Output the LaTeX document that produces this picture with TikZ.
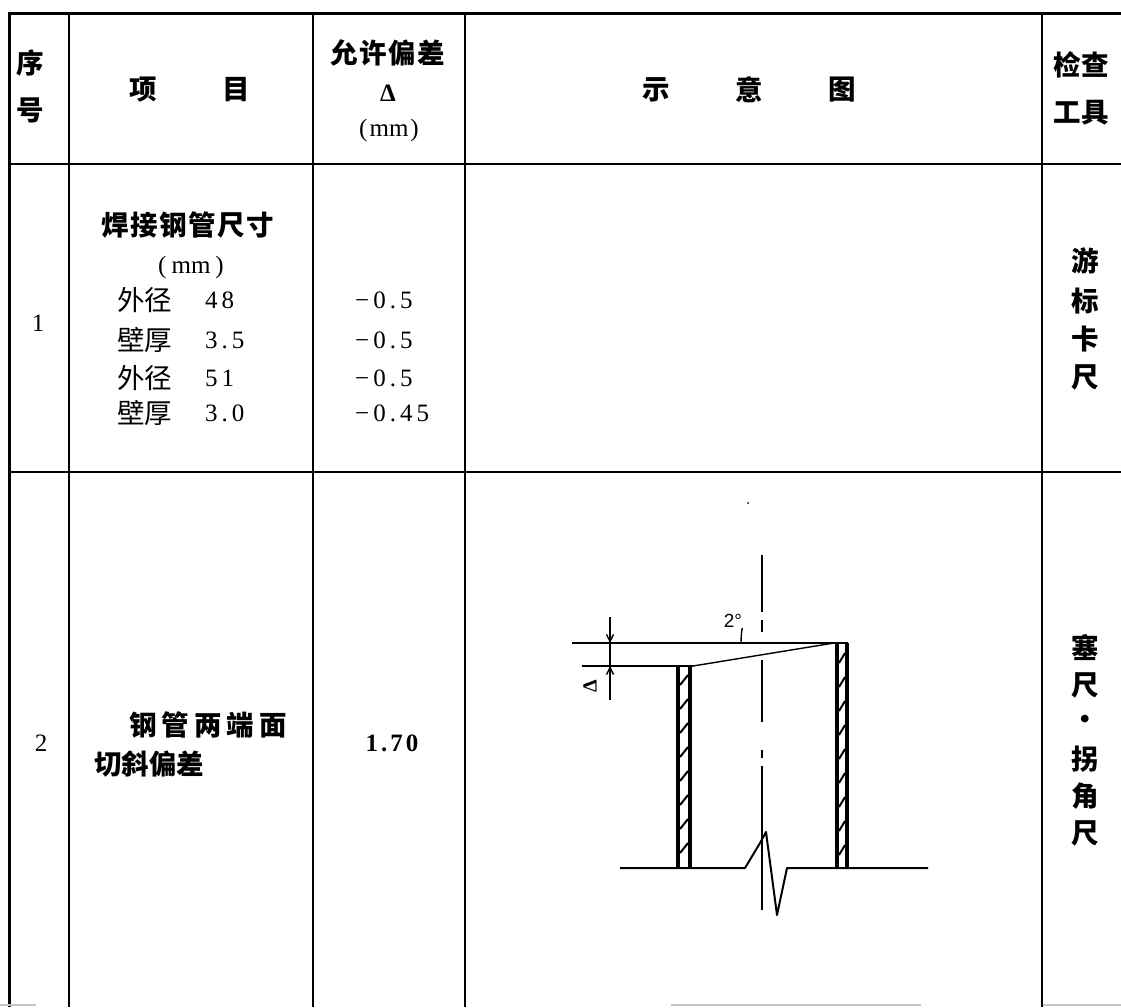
\documentclass[tikz,border=0pt]{standalone}
\usepackage{fontspec}
\setmainfont{Liberation Serif}
\newfontfamily\cjk{Noto Sans CJK SC}
\newfontfamily\sansf{Liberation Sans}
\usetikzlibrary{arrows.meta}
\newcommand\kk{\kern4pt}
\newcommand\ks{\kern1.5pt}
\begin{document}
\begin{tikzpicture}[x=1pt,y=-1pt,
  outer/.style={line width=3pt},
  grid/.style={line width=1.6pt},
  wall/.style={line width=3.8pt},
  fine/.style={line width=1.4pt},
  cn/.style={font=\cjk\bfseries\fontsize{27.5}{27.5}\selectfont, inner sep=0pt},
  cnr/.style={font=\cjk\fontsize{27.5}{27.5}\selectfont, inner sep=0pt},
  num/.style={font=\fontsize{25}{25}\selectfont, inner sep=0pt},
  numb/.style={font=\bfseries\fontsize{25}{25}\selectfont, inner sep=0pt},
  dimarrow/.style={fine, -{Straight Barb[length=7pt,width=7pt]}},
]
\useasboundingbox (0,0) rectangle (1121,1007);
% ---------- table ----------
\foreach \x in {69,313,465,1042} \draw[grid] (\x,13) -- (\x,1007);
\draw[grid] (9,164) -- (1121,164);
\draw[grid] (9,472) -- (1121,472);
\draw[outer] (9,1007) -- (9,13) -- (1121,13);
\draw[gray!45, line width=2pt] (0,1005) -- (36,1005) (671,1005) -- (921,1005) (1043,1005) -- (1121,1005);
% ---------- header ----------
\node[cn] (h1) at (30,63) {序};
\node[cn] (h2) at (30,110) {号};
\node[cn] (h3) at (143,90) {项};
\node[cn] (h4) at (236,90) {目};
\node[cn] (h5) at (388,53) {允\ks 许\ks 偏\ks 差};
\node[numb] (h6) at (388,93) {Δ};
\node[num] (h7) at (389,130) {(\kern2pt mm\kern2pt)};
\node[cn] (h8) at (656,90) {示};
\node[cn] (h9) at (749,90) {意};
\node[cn] (h10) at (842,90) {图};
\node[cn] (h11) at (1081,65) {检查};
\node[cn] (h12) at (1081,113) {工具};
% ---------- row 1 ----------
\node[num] (r1n) at (38,323) {1};
\node[cn] (r1a) at (188,225) {焊\ks 接\ks 钢\ks 管\ks 尺\ks 寸};
\node[num] (r1b) at (191,267) {(\kern5pt mm\kern5pt)};
\node[cnr, anchor=west] (r1c) at (117,300) {外径};
\node[num, anchor=west] (r1c2) at (205,300) {4\kk8};
\node[cnr, anchor=west] (r1d) at (117,340) {壁厚};
\node[num, anchor=west] (r1d2) at (205,340) {3\kk.\kk5};
\node[cnr, anchor=west] (r1e) at (117,378) {外径};
\node[num, anchor=west] (r1e2) at (205,378) {5\kk1};
\node[cnr, anchor=west] (r1f) at (117,413) {壁厚};
\node[num, anchor=west] (r1f2) at (205,413) {3\kk.\kk0};
\node[num, anchor=west] (v1) at (355,300) {−\kk0\kk.\kk5};
\node[num, anchor=west] (v2) at (355,340) {−\kk0\kk.\kk5};
\node[num, anchor=west] (v3) at (355,378) {−\kk0\kk.\kk5};
\node[num, anchor=west] (v4) at (355,413) {−\kk0\kk.\kk4\kk5};
\node[cn] (t1) at (1085,261) {游};
\node[cn] (t2) at (1085,301) {标};
\node[cn] (t3) at (1085,339) {卡};
\node[cn] (t4) at (1085,377) {尺};
% ---------- row 2 ----------
\node[num] (r2n) at (41,743) {2};
\node[cn, anchor=west] (r2a) at (129,725) {钢\kern5pt 管\kern5pt 两\kern5pt 端\kern5pt 面};
\node[cn, anchor=west] (r2b) at (94,764) {切斜偏差};
\node[numb] (r2v) at (392,743) {1\kern3pt.\kern3pt7\kern3pt0};
\node[cn] (u1) at (1085,648) {塞};
\node[cn] (u2) at (1085,685) {尺};
\node[cn] (u3) at (1085,722) {·};
\node[cn] (u4) at (1085,759) {拐};
\node[cn] (u5) at (1085,796) {角};
\node[cn] (u6) at (1085,833) {尺};
% ---------- sketch ----------
% centre line (dash-dot)
\fill (748,503) circle (1pt);
\draw[fine] (762,555) -- (762,612) (762,620) -- (762,632) (762,660) -- (762,722)
            (762,750) -- (762,758) (762,766) -- (762,910);
% top reference line and lower line
\coordinate (TL) at (572,643);
\coordinate (TR) at (848,643);
\coordinate (LL) at (582,666);
\coordinate (LP) at (693,666);
\coordinate (RP) at (834,643);
\draw[fine] (TL) -- (TR);
\draw[fine] (LL) -- (LP);
\draw[fine] (LP) -- (RP);
% angle arc
\draw[fine] (741,643) arc[start angle=180, end angle=189.2, radius=93];
\node[font=\sansf\fontsize{19}{19}\selectfont, inner sep=0pt] (ang) at (733,621) {2°};
% dimension
\coordinate (D1) at (610,617);
\coordinate (D2) at (610,700);
\draw[fine] (D1) -- (D2);
\draw[dimarrow] (610,622) -- (610,643);
\draw[dimarrow] (610,688) -- (610,666);
\node[font=\bfseries\fontsize{20}{20}\selectfont, inner sep=0pt, rotate=90] (dl) at (590,686) {Δ};
% left pipe wall
\draw[wall] (678,666) -- (678,868);
\draw[wall] (690,666) -- (690,868);
\foreach \y in {680,704,...,860} \draw[line width=2pt] (680,\y+5) -- (688,\y-5);
% right pipe wall
\draw[wall] (837,643) -- (837,868);
\draw[wall] (847,643) -- (847,868);
\foreach \y in {658,682,...,860} \draw[line width=2pt] (839,\y+5) -- (845,\y-5);
% base line with break
\draw[line width=2pt, line join=round] (620,868) -- (745,868) -- (760,843) -- (766,832)
      -- (777,915) -- (787,868) -- (928,868);
\end{tikzpicture}
\end{document}
